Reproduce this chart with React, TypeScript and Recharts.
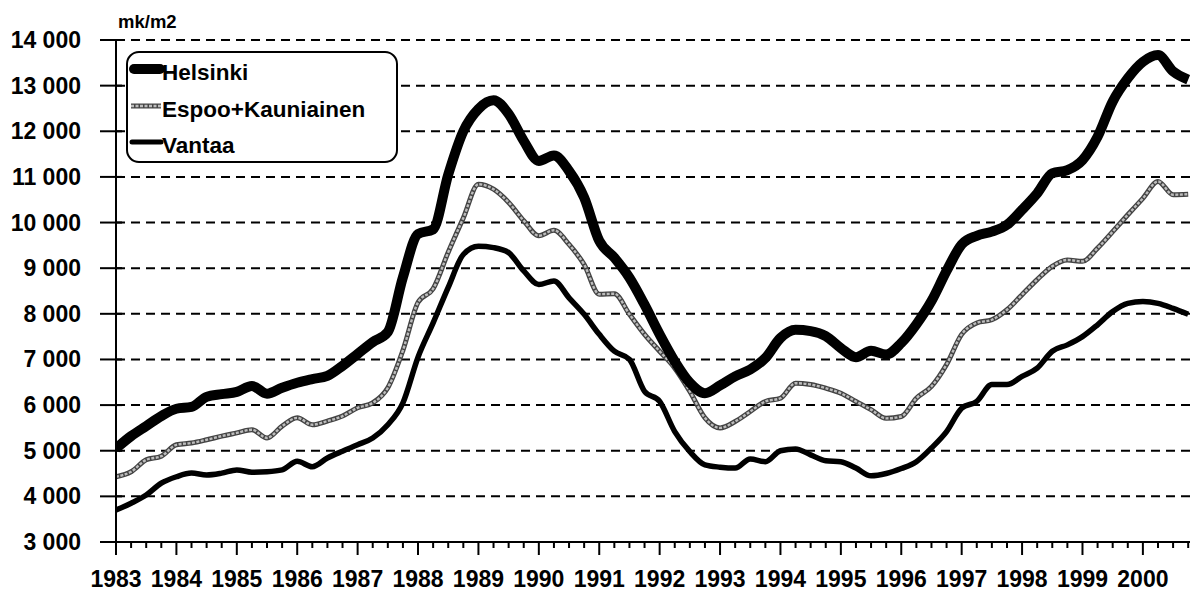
import { LineChart, Line, XAxis, YAxis, CartesianGrid, Legend } from "recharts";

// quarterly observations, 1983 Q1 .. 2000 Q4
const quarters = [
  1983, 1983.25, 1983.5, 1983.75, 1984, 1984.25, 1984.5, 1984.75,
  1985, 1985.25, 1985.5, 1985.75, 1986, 1986.25, 1986.5, 1986.75,
  1987, 1987.25, 1987.5, 1987.75, 1988, 1988.25, 1988.5, 1988.75,
  1989, 1989.25, 1989.5, 1989.75, 1990, 1990.25, 1990.5, 1990.75,
  1991, 1991.25, 1991.5, 1991.75, 1992, 1992.25, 1992.5, 1992.75,
  1993, 1993.25, 1993.5, 1993.75, 1994, 1994.25, 1994.5, 1994.75,
  1995, 1995.25, 1995.5, 1995.75, 1996, 1996.25, 1996.5, 1996.75,
  1997, 1997.25, 1997.5, 1997.75, 1998, 1998.25, 1998.5, 1998.75,
  1999, 1999.25, 1999.5, 1999.75, 2000, 2000.25, 2000.5, 2000.75,
];

const helsinki = [
  5050, 5320, 5540, 5760, 5920, 5960, 6180, 6240,
  6290, 6420, 6250, 6380, 6490, 6570, 6640, 6860,
  7120, 7380, 7600, 8800, 9750, 9850, 11050, 12000,
  12490, 12680, 12380, 11790, 11350, 11470, 11130, 10550,
  9600, 9230, 8790, 8200, 7550, 6960, 6490, 6260,
  6430, 6630, 6780, 7030, 7470, 7650, 7620, 7510,
  7250, 7050, 7190, 7110, 7360, 7770, 8280, 8940,
  9520, 9710, 9800, 9950, 10280, 10640, 11080, 11150,
  11370, 11880, 12650, 13160, 13520, 13670, 13310, 13130,
];

const espoo = [
  4430, 4540, 4800, 4880, 5130, 5170, 5240, 5320,
  5390, 5460, 5280, 5540, 5720, 5570, 5650, 5760,
  5940, 6050, 6380, 7200, 8250, 8550, 9350, 10100,
  10840, 10730, 10440, 10040, 9710, 9830, 9520, 9080,
  8430, 8440, 7990, 7550, 7180, 6810, 6300, 5720,
  5500, 5640, 5860, 6080, 6150, 6480, 6450, 6370,
  6260, 6080, 5900, 5710, 5750, 6150, 6410, 6890,
  7550, 7800, 7870, 8090, 8420, 8750, 9040, 9180,
  9150, 9440, 9800, 10170, 10530, 10900, 10610, 10620,
];

const vantaa = [
  3700, 3850, 4030, 4290, 4430, 4510, 4470, 4510,
  4580, 4530, 4540, 4580, 4770, 4650, 4840, 4990,
  5130, 5280, 5570, 6050, 7050, 7800, 8580, 9300,
  9480, 9450, 9340, 8940, 8640, 8720, 8350, 7990,
  7550, 7180, 7000, 6300, 6080, 5420, 4980, 4690,
  4640, 4620, 4820, 4760, 5000, 5040, 4910, 4780,
  4760, 4620, 4450, 4500, 4610, 4760, 5060, 5420,
  5930, 6080, 6450, 6450, 6630, 6810, 7180, 7320,
  7500, 7760, 8050, 8230, 8270, 8230, 8120, 7990,
];

const valueTicks = [3000, 4000, 5000, 6000, 7000, 8000, 9000, 10000, 11000, 12000, 13000, 14000];

const seriesNames = ["Helsinki", "Espoo+Kauniainen", "Vantaa"];

const chartData = quarters.map((t, i) => ({
  t,
  helsinki: helsinki[i],
  espoo: espoo[i],
  vantaa: vantaa[i],
}));

const FONT = "'Liberation Sans', Arial, sans-serif";

const fmtThousands = (v: number) => `${Math.floor(v / 1000)} ${String(v % 1000).padStart(3, "0")}`;

function YearTick({ x, y, payload }: any) {
  const major = Number.isInteger(payload.value);
  return (
    <g>
      <line x1={x} x2={x} y1={y} y2={y + (major ? 13 : 6)} stroke="#000" strokeWidth={2} />
      {major && (
        <text x={x} y={y + 45} textAnchor="middle" fontFamily={FONT} fontWeight="bold" fontSize={23} fill="#000">
          {payload.value}
        </text>
      )}
    </g>
  );
}

function ValueTick({ x, y, payload }: any) {
  return (
    <g>
      <line x1={x - 16} x2={x + 6} y1={y} y2={y} stroke="#000" strokeWidth={2} />
      <text x={x - 35} y={y + 8} textAnchor="end" fontFamily={FONT} fontWeight="bold" fontSize={23} fill="#000">
        {fmtThousands(payload.value)}
      </text>
    </g>
  );
}

function LegendBox() {
  const rows = [35, 72, 108];
  return (
    <svg width={274} height={114} style={{ display: "block" }}>
      <rect x={1} y={1} width={270} height={110} rx={12} fill="#fff" stroke="#000" strokeWidth={2} />
      <line x1={8} x2={34} y1={18} y2={18} stroke="#000" strokeWidth={10} strokeLinecap="round" />
      <line x1={5} x2={35} y1={55} y2={55} stroke="#444" strokeWidth={5} />
      <line x1={5} x2={35} y1={55} y2={55} stroke="#bdbdbd" strokeWidth={2.4} strokeDasharray="3 1.5" />
      <line x1={6} x2={35} y1={91} y2={91} stroke="#000" strokeWidth={5} strokeLinecap="round" />
      {seriesNames.map((name, i) => (
        <text key={name} x={36} y={rows[i] - 6} fontFamily={FONT} fontWeight="bold" fontSize={22.5} fill="#000">
          {name}
        </text>
      ))}
    </svg>
  );
}

export default function App() {
  return (
    <div style={{ position: "absolute", left: 0, top: 0, width: 1193, height: 594, background: "#fff" }}>
      <svg width={200} height={40} style={{ position: "absolute", left: 0, top: 0 }}>
        <text x={118} y={28} fontFamily={FONT} fontWeight="bold" fontSize={18.5} fill="#000">
          mk/m2
        </text>
      </svg>
      <LineChart width={1193} height={594} data={chartData} margin={{ top: 40, right: 3, bottom: 0, left: 0 }}>
        <CartesianGrid horizontal vertical={false} stroke="#000" strokeWidth={2} strokeDasharray="9 6" />
        <XAxis
          dataKey="t"
          type="number"
          domain={[1983, 2000.78]}
          allowDataOverflow
          ticks={quarters}
          interval={0}
          tick={<YearTick />}
          tickLine={false}
          tickSize={0}
          tickMargin={0}
          axisLine={{ stroke: "#000", strokeWidth: 2 }}
          height={52}
        />
        <YAxis
          type="number"
          domain={[3000, 14000]}
          ticks={valueTicks}
          interval={0}
          tick={<ValueTick />}
          tickLine={false}
          tickSize={0}
          tickMargin={0}
          axisLine={{ stroke: "#000", strokeWidth: 2 }}
          width={116}
        />
        <Legend
          verticalAlign="middle"
          align="center"
          content={<LegendBox />}
          wrapperStyle={{ left: 126, top: 51, width: "auto" }}
        />
        <Line dataKey="espoo" name="Espoo+Kauniainen" type="monotone" stroke="#444" strokeWidth={5} dot={false} activeDot={false} isAnimationActive={false} />
        <Line dataKey="espoo" legendType="none" type="monotone" stroke="#bdbdbd" strokeWidth={2.4} strokeDasharray="3 1.5" dot={false} activeDot={false} isAnimationActive={false} />
        <Line dataKey="vantaa" name="Vantaa" type="monotone" stroke="#000" strokeWidth={5.5} dot={false} activeDot={false} isAnimationActive={false} />
        <Line dataKey="helsinki" name="Helsinki" type="monotone" stroke="#000" strokeWidth={10} strokeLinejoin="round" dot={false} activeDot={false} isAnimationActive={false} />
      </LineChart>
    </div>
  );
}
